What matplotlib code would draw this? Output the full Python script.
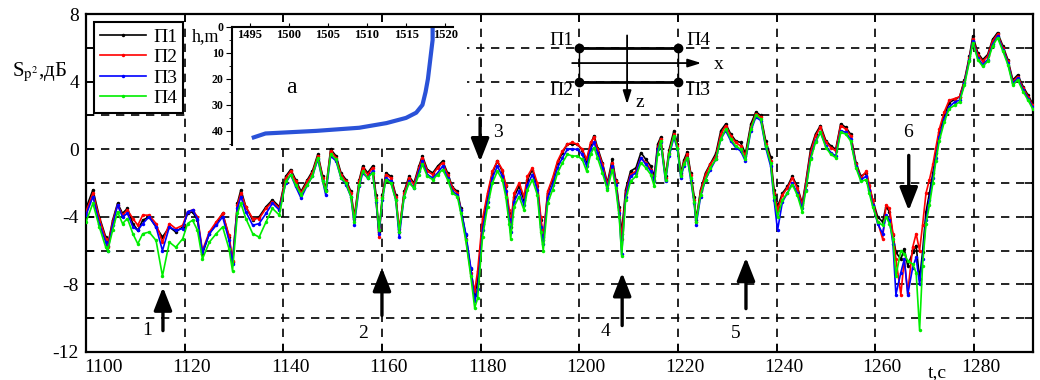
import numpy as np
import matplotlib.pyplot as plt
from matplotlib.patches import Rectangle
import matplotlib.transforms as mtransforms

plt.rcParams['font.family'] = ['Liberation Serif', 'DejaVu Serif']
plt.rcParams['mathtext.fontset'] = 'stix'

# time, s
t = [1100.0, 1101.4, 1102.7, 1104.0, 1104.4, 1105.4, 1106.4, 1107.4, 1108.4, 1109.5,
     1110.5, 1111.5, 1112.8, 1114.2, 1115.5, 1116.9, 1118.2, 1119.6, 1120.6, 1121.6,
     1122.6, 1123.6, 1125.0, 1126.4, 1127.7, 1129.0, 1129.7, 1130.7, 1131.4, 1132.4,
     1133.8, 1135.1, 1136.5, 1137.8, 1139.2,
     1140.5, 1141.5, 1142.5, 1143.6, 1144.9, 1145.9, 1147.0, 1148.0, 1148.6, 1149.6,
     1150.7, 1151.7, 1152.7, 1153.7, 1154.4, 1155.4, 1156.1, 1157.1, 1158.1, 1158.8,
     1159.4, 1160.1, 1160.8, 1161.8, 1162.8, 1163.5, 1164.5, 1165.5, 1166.5, 1167.5,
     1168.2, 1169.2, 1170.3, 1171.3, 1172.3, 1173.3, 1174.3, 1175.3, 1176.0, 1177.0, 1178.0,
     1178.8, 1179.4, 1180.4, 1181.4, 1182.4, 1183.4, 1184.4, 1185.1, 1185.8, 1186.1,
     1186.8, 1187.8, 1188.8, 1189.5, 1190.5, 1191.5, 1192.2, 1192.7, 1193.6, 1194.6,
     1195.6, 1196.6, 1197.6, 1198.6, 1199.6, 1200.6, 1201.5, 1202.3, 1203.0, 1203.7,
     1204.7, 1205.7, 1206.7, 1207.4, 1208.1, 1208.6, 1209.4, 1210.4, 1211.5, 1212.5,
     1213.5, 1214.5, 1215.2, 1215.9,
     1216.5, 1217.5, 1218.2, 1219.2, 1219.9, 1220.6, 1221.2, 1221.9, 1222.6, 1223.3,
     1223.7, 1224.6, 1225.6, 1226.6, 1227.7, 1228.7, 1229.7, 1230.7, 1231.7, 1232.7,
     1233.7, 1234.8, 1235.8, 1236.8, 1237.8, 1238.8, 1239.5, 1240.2, 1241.2, 1242.2,
     1243.2, 1244.2, 1245.2, 1245.9, 1246.9, 1247.9, 1248.9, 1250.0, 1251.0, 1252.0,
     1253.0, 1254.0, 1255.0,
     1256.1, 1257.1, 1258.2, 1258.8, 1259.5, 1260.5, 1261.5, 1262.2, 1262.9, 1263.6,
     1264.2, 1265.2, 1265.9, 1266.6, 1267.6, 1268.3, 1269.0, 1269.6, 1270.3, 1271.0,
     1271.7, 1272.3, 1273.0, 1274.0, 1275.0, 1276.1, 1277.1, 1278.1, 1279.1, 1279.8,
     1280.8, 1281.8, 1282.8, 1283.8, 1284.8, 1285.9, 1286.9, 1287.9, 1288.9, 1290.0,
     1291.0, 1291.9]

p1 = [-3.5, -2.4, -4.0, -5.2, -5.7, -4.2, -3.2, -3.8, -3.5, -4.4, -4.8, -4.2, -4.0, -4.6, -5.2,
      -4.6, -4.9, -4.6, -3.8, -3.7, -4.2, -6.2, -5.0, -4.4, -3.8, -5.2, -6.7, -3.2, -2.4, -3.4,
      -4.2, -4.0, -3.4, -3.0, -3.4,
      -1.6, -1.2, -1.8, -2.5, -1.8, -1.3, -0.3, -1.6, -2.4, 0.0, -0.4, -1.4, -1.8, -2.5, -4.0,
      -1.8, -1.0, -1.4, -1.0, -2.7, -4.9, -2.7, -1.4, -1.6, -2.7, -4.9, -2.5, -1.6, -2.0, -1.0,
      -0.4, -1.2, -1.4, -1.0, -0.7, -1.4, -2.25, -2.5, -3.5, -5.1, -7.1,
      -8.6, -7.8, -4.4, -2.8, -1.4, -0.7, -1.3, -2.2, -3.8, -4.6, -2.8, -2.2, -3.0, -1.8, -1.2,
      -2.2, -4.2, -5.4, -2.6, -1.8, -0.8, -0.2, 0.3, 0.3, 0.3, -0.05, -0.75, 0.3, 0.8, 0.1,
      -0.8, -2.0, -0.6, -1.8, -3.4, -5.0, -2.4, -1.3, -1.1, -0.2, -0.6, -1.0, -1.6, 0.3,
      0.7, -1.6, -0.05, 1.1, 0.3, -1.4, -0.65, -0.15, -1.4, -2.8, -4.2, -2.4, -1.4, -0.85, -0.25,
      1.1, 1.5, 0.9, 0.5, 0.4, -0.25, 1.5, 2.2, 2.0, 0.5, -0.45, -2.4, -3.4, -2.6, -2.2,
      -1.6, -2.2, -3.2, -2.0, 0.0, 0.9, 1.4, 0.5, 0.2, 0.0, 1.5, 1.3, 0.9,
      -0.8, -1.6, -1.4, -2.2, -3.0, -4.0, -4.3, -3.4, -3.7, -5.1, -6.1, -6.5, -5.9, -6.9, -6.1,
      -5.7, -7.7, -6.1, -3.7, -2.6, -1.4, -0.2, 1.0, 2.0, 2.75, 2.95, 3.1, 4.1, 5.5, 6.7,
      5.7, 5.3, 5.6, 6.5, 6.9, 6.1, 5.3, 4.1, 4.4, 3.7, 3.2, 2.7]

p2 = [-3.7, -2.6, -4.1, -5.3, -5.8, -4.3, -3.3, -3.9, -3.6, -4.1, -4.5, -3.9, -3.9, -4.4, -5.5,
      -4.4, -4.7, -4.5, -3.7, -3.6, -4.0, -6.0, -4.9, -4.3, -3.8, -5.1, -6.6, -3.3, -2.6, -3.4,
      -4.1, -4.1, -3.5, -3.1, -3.5,
      -1.7, -1.3, -1.9, -2.6, -1.9, -1.4, -0.4, -1.7, -2.5, -0.1, -0.5, -1.5, -1.9, -2.6, -4.1,
      -1.9, -1.1, -1.5, -1.1, -2.9, -5.2, -2.8, -1.5, -1.7, -2.8, -4.7, -2.6, -1.7, -2.1, -1.1,
      -0.5, -1.3, -1.5, -1.1, -0.8, -1.5, -2.3, -2.6, -3.6, -5.3, -7.3,
      -8.4, -7.2, -4.1, -2.6, -1.3, -0.7, -1.2, -2.1, -3.6, -4.4, -2.6, -2.0, -2.8, -1.6, -1.1,
      -2.0, -4.0, -5.2, -2.5, -1.7, -0.7, -0.1, 0.3, 0.4, 0.3, 0.0, -0.6, 0.4, 0.7, 0.0,
      -0.9, -2.1, -0.8, -1.9, -3.6, -5.3, -2.6, -1.5, -1.3, -0.5, -0.8, -1.2, -1.8, 0.1,
      0.6, -1.7, -0.2, 0.9, 0.2, -1.5, -0.8, -0.3, -1.5, -3.0, -4.3, -2.5, -1.5, -0.9, -0.4,
      0.9, 1.4, 0.8, 0.4, 0.2, -0.4, 1.3, 2.1, 1.9, 0.3, -0.7, -2.6, -3.6, -2.7, -2.3,
      -1.7, -2.3, -3.3, -2.1, -0.2, 0.8, 1.3, 0.4, 0.1, -0.1, 1.4, 1.2, 0.8,
      -0.9, -1.7, -1.3, -2.1, -3.0, -4.3, -5.3, -3.3, -3.5, -5.0, -6.5, -8.6, -6.5, -8.5, -5.8,
      -5.0, -6.0, -4.5, -2.6, -1.8, -0.9, 0.1, 1.2, 2.2, 2.9, 3.0, 3.1, 4.0, 5.4, 6.5,
      5.6, 5.2, 5.5, 6.4, 6.8, 6.0, 5.2, 4.0, 4.3, 3.6, 3.1, 2.6]

p3 = [-3.9, -2.8, -4.4, -5.5, -6.0, -4.5, -3.3, -4.0, -3.8, -4.6, -4.8, -4.4, -4.0, -4.6, -6.0,
      -4.6, -4.8, -4.7, -3.7, -3.6, -4.1, -6.1, -5.0, -4.5, -4.0, -5.4, -6.8, -3.5, -2.8, -3.7,
      -4.5, -4.4, -3.8, -3.2, -3.6,
      -2.0, -1.5, -2.2, -2.9, -2.1, -1.6, -0.6, -1.9, -2.7, -0.4, -0.7, -1.7, -2.1, -2.8, -4.5,
      -2.2, -1.4, -1.7, -1.3, -3.1, -5.0, -3.0, -1.7, -1.9, -3.0, -5.2, -2.8, -1.9, -2.3, -1.3,
      -0.7, -1.5, -1.7, -1.4, -1.0, -1.7, -2.5, -2.7, -3.6, -5.0, -7.0,
      -9.0, -8.3, -4.8, -3.1, -1.7, -1.0, -1.6, -2.5, -4.1, -4.9, -3.1, -2.5, -3.3, -2.1, -1.5,
      -2.4, -4.6, -5.6, -2.9, -2.1, -1.1, -0.5, 0.0, 0.0, 0.0, -0.3, -1.0, 0.0, 0.4, -0.2,
      -1.1, -2.3, -1.0, -2.1, -3.8, -6.2, -2.8, -1.6, -1.4, -0.5, -0.9, -1.3, -1.9, 0.0,
      0.4, -1.9, -0.4, 0.7, 0.0, -1.7, -1.0, -0.5, -1.8, -3.2, -4.5, -2.8, -1.8, -1.2, -0.6,
      0.6, 1.1, 0.5, 0.1, -0.1, -0.7, 1.1, 1.9, 1.7, 0.1, -1.0, -3.0, -4.8, -3.1, -2.6,
      -2.0, -2.6, -3.5, -2.4, -0.5, 0.5, 1.0, 0.2, -0.2, -0.4, 1.1, 1.0, 0.6,
      -1.0, -1.8, -1.6, -2.4, -3.3, -4.4, -5.0, -3.9, -4.2, -5.6, -8.6, -7.3, -6.5, -8.6, -7.0,
      -6.4, -8.0, -6.5, -4.2, -3.0, -1.7, -0.5, 0.7, 1.8, 2.5, 2.8, 2.9, 3.9, 5.3, 6.4,
      5.4, 5.0, 5.3, 6.2, 6.7, 5.9, 5.1, 3.9, 4.2, 3.5, 3.0, 2.5]

p4 = [-4.3, -3.2, -4.6, -5.8, -6.0, -4.8, -3.7, -4.4, -4.1, -5.0, -5.6, -5.0, -4.9, -5.4, -7.5,
      -5.5, -5.8, -5.3, -4.4, -4.2, -4.8, -6.5, -5.5, -5.0, -4.6, -5.9, -7.2, -3.8, -3.2, -4.1,
      -5.0, -5.2, -4.3, -3.5, -3.9,
      -1.9, -1.5, -2.1, -2.7, -2.1, -1.6, -0.5, -1.9, -2.5, -0.3, -0.6, -1.7, -2.0, -2.8, -4.3,
      -2.1, -1.3, -1.7, -1.4, -3.0, -4.8, -2.9, -1.8, -2.0, -3.0, -4.9, -2.8, -2.0, -2.3, -1.5,
      -0.9, -1.6, -1.8, -1.5, -1.2, -1.8, -2.6, -2.8, -3.8, -5.4, -7.5,
      -9.4, -8.8, -5.2, -3.4, -2.0, -1.3, -1.8, -2.8, -4.4, -5.3, -3.4, -2.8, -3.6, -2.4, -1.8,
      -2.7, -4.9, -6.0, -3.2, -2.4, -1.4, -0.8, -0.3, -0.4, -0.4, -0.6, -1.3, -0.3, 0.1, -0.5,
      -1.4, -2.4, -1.2, -2.3, -4.0, -6.3, -3.0, -1.9, -1.6, -0.8, -1.1, -1.5, -2.2, -0.3,
      0.5, -1.8, -0.3, 0.8, 0.1, -1.6, -0.9, -0.5, -1.7, -3.1, -4.3, -2.7, -1.8, -1.1, -0.6,
      0.6, 1.2, 0.6, 0.2, 0.0, -0.6, 1.2, 2.0, 1.8, 0.2, -0.8, -2.8, -4.0, -3.0, -2.6,
      -2.1, -2.7, -3.7, -2.5, -0.6, 0.4, 1.0, 0.1, -0.3, -0.5, 1.0, 0.9, 0.5,
      -1.1, -1.9, -1.8, -2.6, -3.4, -4.3, -4.5, -4.0, -4.4, -5.3, -7.5, -6.0, -6.2, -6.6, -6.8,
      -7.3, -10.7, -6.9, -4.4, -3.3, -2.0, -0.7, 0.5, 1.6, 2.4, 2.6, 2.8, 3.8, 5.2, 6.3,
      5.3, 4.9, 5.2, 6.1, 6.6, 5.8, 5.0, 3.8, 4.1, 3.4, 2.9, 2.4]

series_names = ['П1', 'П2', 'П3', 'П4']
series_colors = ['#000000', '#ff0000', '#0000ff', '#00ee00']

# inset "a": sound speed profile
c_prof = [1518.4, 1518.4, 1518.2, 1518.0, 1517.8, 1517.5, 1517.1, 1516.3, 1515.0, 1512.5,
          1509.0, 1503.5, 1497.0, 1495.5]
h_prof = [0, 5, 10, 15, 20, 25, 30, 33, 35, 37, 38.8, 40, 41, 42.5]

# numbered arrows: x, tail y, tip y, label x, label y
arrow_ids = ['1', '2', '3', '4', '5', '6']
arrow_x = [1115.6, 1160.0, 1179.9, 1208.7, 1233.8, 1266.8]
arrow_tail = [-10.9, -10.0, 2.0, -10.6, -9.6, -0.2]
arrow_tip = [-8.0, -6.85, -0.9, -7.15, -6.25, -3.8]
label_x = [1112.4, 1156.2, 1183.5, 1205.4, 1231.8, 1266.6]
label_y = [-10.7, -10.9, 1.0, -10.8, -10.9, 1.0]

fig = plt.figure(figsize=(10.4, 3.8), dpi=100)
ax = fig.add_axes([0.0827, 0.0737, 0.9106, 0.8893])

for vals, name, col in zip([p1, p2, p3, p4], series_names, series_colors):
    ax.plot(t, vals, color=col, lw=1.2, marker='.', ms=5, mew=0, label=name, zorder=3)

ax.set_xlim(1100, 1292)
ax.set_ylim(-12, 8)
ax.set_xticks(range(1100, 1281, 20))
ax.set_yticks(range(-12, 9, 2))
ax.set_yticklabels([str(v) if v % 4 == 0 else '' for v in range(-12, 9, 2)])
ax.grid(True, color='k', linestyle=(0, (5, 4)), lw=1.2)
ax.set_axisbelow(True)
ax.tick_params(direction='in', length=6, width=1.2, top=True, right=True,
               labelsize=14, pad=5)
for sp in ax.spines.values():
    sp.set_linewidth(1.6)

# x tick labels sit a little right of their ticks in the source picture
offset = mtransforms.ScaledTranslation(0.07, 0, fig.dpi_scale_trans)
first = mtransforms.ScaledTranslation(0.17, 0, fig.dpi_scale_trans)
for i, lab in enumerate(ax.get_xticklabels()):
    lab.set_transform(lab.get_transform() + (first if i == 0 else offset))

ax.set_xlabel('t,c', fontsize=14)
ax.xaxis.set_label_coords(0.899, -0.035)
fig.text(0.012, 0.81, r'S$_{\rm p^2}$,дБ', fontsize=15, va='center')

# white area under the inset
ax.add_patch(Rectangle((1120.4, 0.2), 56.8, 7.35, facecolor='white',
                       edgecolor='none', zorder=1))

leg = ax.legend(loc='upper left', bbox_to_anchor=(0.0084, 0.976), borderaxespad=0,
                fontsize=14, handlelength=2.4, handletextpad=0.35, labelspacing=0.15,
                fancybox=False, edgecolor='k', framealpha=1, borderpad=0.3)
leg.get_frame().set_linewidth(1.5)

# receiver scheme
ax.plot([1200, 1220], [6, 6], color='k', lw=2, zorder=4)
ax.plot([1200, 1220], [4, 4], color='k', lw=2, zorder=4)
ax.plot([1200, 1200], [4, 6], color='k', lw=1, zorder=4)
ax.plot([1220, 1220], [4, 6], color='k', lw=1, zorder=4)
ax.plot([1200, 1220, 1200, 1220], [6, 6, 4, 4], 'o', color='k', ms=6, zorder=5)
ax.annotate('', xy=(1225.3, 5.1), xytext=(1198, 5.1),
            arrowprops=dict(arrowstyle='-|>,head_length=0.8,head_width=0.25',
                            lw=1.3, color='k', mutation_scale=10), zorder=5)
ax.annotate('', xy=(1209.7, 2.5), xytext=(1209.7, 6.9),
            arrowprops=dict(arrowstyle='-|>,head_length=0.8,head_width=0.25',
                            lw=1.3, color='k', mutation_scale=10), zorder=5)
ax.text(1227.3, 5.0, 'x', fontsize=14, va='center', ha='left')
ax.text(1211.5, 2.75, 'z', fontsize=14, va='center', ha='left')
ax.text(1196.3, 6.45, 'П1', fontsize=14, va='center', ha='center')
ax.text(1224.1, 6.45, 'П4', fontsize=14, va='center', ha='center')
ax.text(1196.3, 3.5, 'П2', fontsize=14, va='center', ha='center')
ax.text(1224.1, 3.5, 'П3', fontsize=14, va='center', ha='center')

# numbered arrows
for i in range(len(arrow_ids)):
    ax.annotate('', xy=(arrow_x[i], arrow_tip[i]), xytext=(arrow_x[i], arrow_tail[i]),
                arrowprops=dict(arrowstyle='-|>,head_length=1.4,head_width=0.55',
                                lw=2.4, color='k', mutation_scale=10), zorder=6)
    ax.text(label_x[i], label_y[i], arrow_ids[i], fontsize=14, ha='center', va='center')

# inset a
ax_in = fig.add_axes([0.223, 0.618, 0.2125, 0.311])
ax_in.plot(c_prof, h_prof, color='#2a52d8', lw=3)
ax_in.set_xlim(1492.7, 1521)
ax_in.set_ylim(45.5, 0)
ax_in.set_xticks(range(1495, 1521, 5))
ax_in.set_yticks(range(0, 41, 10))
ax_in.set_yticks(range(5, 46, 10), minor=True)
ax_in.xaxis.tick_top()
ax_in.tick_params(axis='x', direction='out', length=3, labelsize=9, pad=-13)
ax_in.tick_params(axis='y', direction='out', length=4, labelsize=8.5, pad=2)
ax_in.tick_params(axis='y', which='minor', direction='out', length=2)
for lab in ax_in.get_xticklabels() + ax_in.get_yticklabels():
    lab.set_fontweight('bold')
ax_in.spines['right'].set_visible(False)
ax_in.spines['bottom'].set_visible(False)
ax_in.spines['left'].set_linewidth(1.5)
ax_in.spines['top'].set_linewidth(1.5)
ax_in.text(-0.18, 0.92, 'h,m', transform=ax_in.transAxes, fontsize=13, va='center')
ax_in.text(0.27, 0.49, 'a', transform=ax_in.transAxes, fontsize=17, ha='center', va='center')

fig.savefig('out.png', dpi=100)
